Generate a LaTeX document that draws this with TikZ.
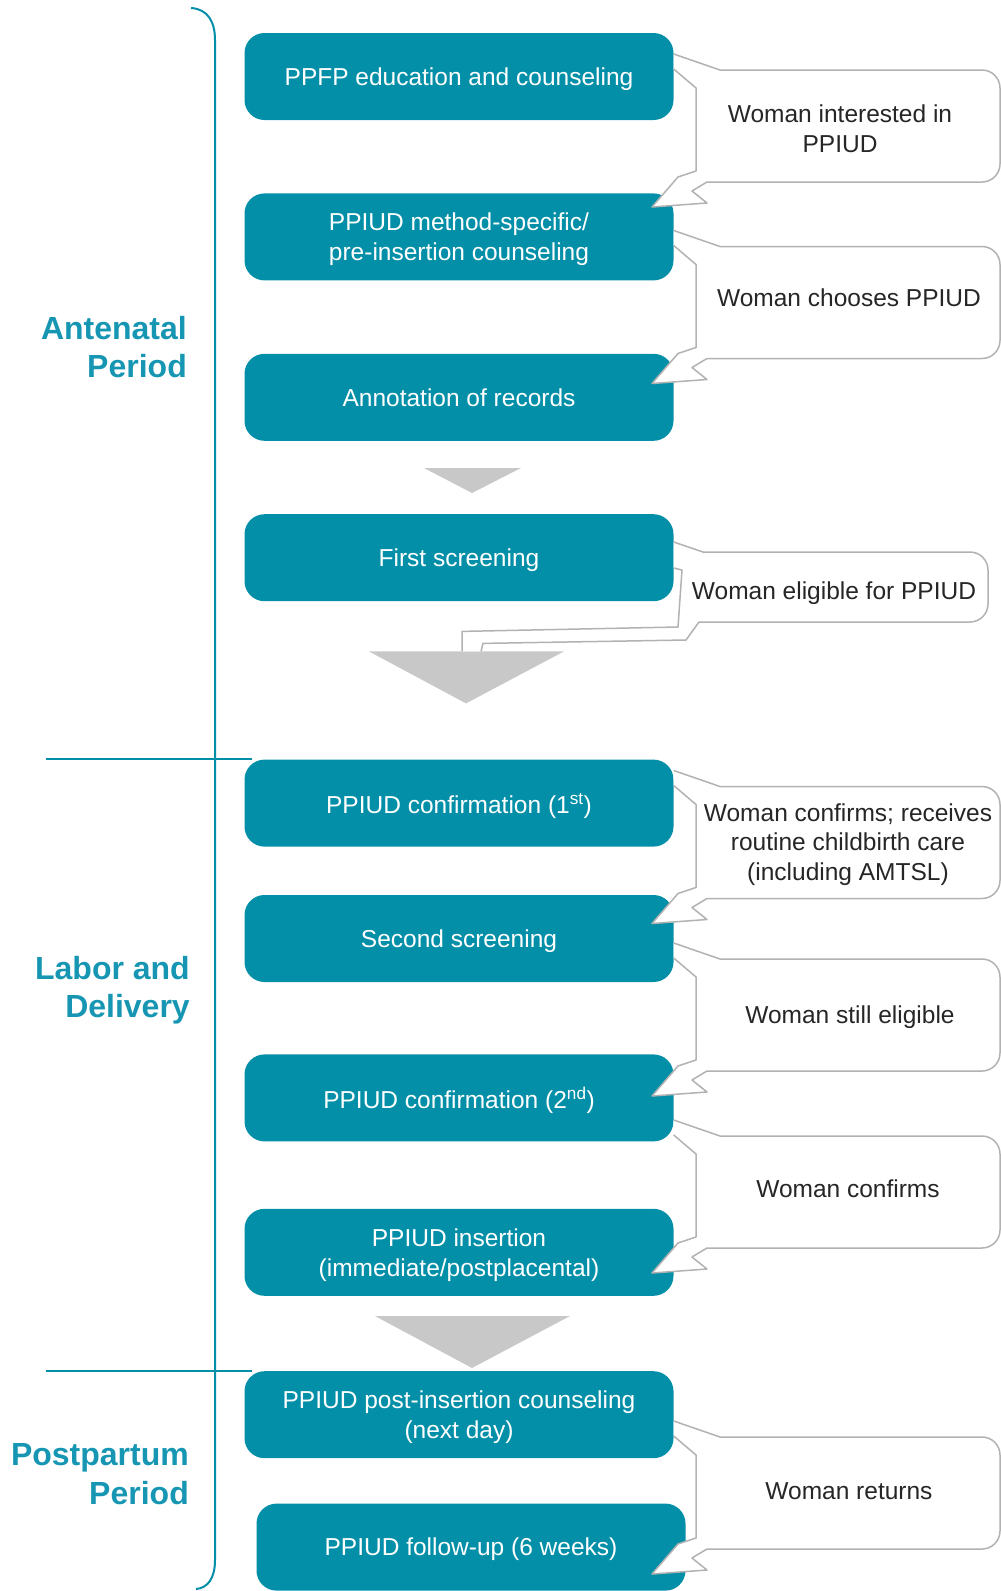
\documentclass[tikz,border=0pt]{standalone}
\usepackage{fontspec}
\setmainfont{Liberation Sans}
\usepackage{tikz}
\usetikzlibrary{calc,positioning}
\definecolor{stagefill}{RGB}{3,143,168}
\definecolor{periodtext}{RGB}{22,150,178}
\definecolor{flowgray}{RGB}{200,200,200}
\definecolor{rimgray}{RGB}{178,178,178}

\begin{document}
\begin{tikzpicture}[x=1pt,y=-1pt,node distance=73pt,line join=round]
  \tikzstyle{stage}=[rectangle,rounded corners=20pt,fill=stagefill,text=white,
                     minimum width=429pt,minimum height=87pt,align=center,text depth=0pt,
                     font=\fontsize{24.5}{30}\selectfont]
  \tikzstyle{bubble}=[rectangle,inner sep=0pt,outer sep=0pt,
                      minimum width=310pt,minimum height=112pt]
  \tikzstyle{tail}=[draw=rimgray,fill=white,line width=1.5pt]
  \tikzstyle{note}=[align=center,text=black!85,text depth=0pt,
                    font=\fontsize{24.5}{29.5}\selectfont]
  \tikzstyle{period}=[align=right,anchor=east,inner sep=0pt,text=periodtext,
                      font=\fontsize{32}{38.5}\selectfont\bfseries]
  \tikzstyle{rule}=[draw=stagefill,line width=2pt]

  \useasboundingbox (0,0) rectangle (1001,1591);

  \node[stage] (b1) at (459,76.5) {PPFP education and counseling};
  \node[stage] (b2) [below=of b1] {PPIUD method-specific/\\pre-insertion counseling};
  \node[stage] (b3) [below=of b2] {Annotation of records};
  \node[stage] (b4) [below=of b3] {First screening};
  \node[stage] (b5) [below=158pt of b4] {PPIUD confirmation (1\textsuperscript{st})};
  \node[stage] (b6) [below=48pt of b5] {Second screening};
  \node[stage] (b7) [below=72pt of b6] {PPIUD confirmation (2\textsuperscript{nd})};
  \node[stage] (b8) [below=67pt of b7] {PPIUD insertion\\(immediate/postplacental)};
  \node[stage] (b9) [below=75pt of b8] {PPIUD post-insertion counseling\\(next day)};
  \node[stage] (b10) [below=45pt of b9,xshift=12pt] {PPIUD follow-up (6 weeks)};

  % gray flow arrows
  \fill[flowgray] ($(b3.south)+(-35,27)$) -- ($(b3.south)+(62,27)$) -- ($(b3.south)+(13,52)$) -- cycle;
  \coordinate (m2) at ($(b4.south)+(7,50)$);
  \fill[flowgray] ($(m2)+(-97,0)$) -- ($(m2)+(98,0)$) -- ($(m2)+(0,52)$) -- cycle;
  \fill[flowgray] ($(b8.south)+(-84,20)$) -- ($(b8.south)+(111,20)$) -- ($(b8.south)+(13,72)$) -- cycle;

  % periods
  \draw[stagefill,line width=2pt] (191,8) .. controls (208,9) and (215,22) .. (215,40)
        -- (215,1560) .. controls (215,1578) and (208,1588) .. (196,1589);
  \draw[rule] ($(b5.north west)+(-198,0)$) -- ($(b5.north west)+(8,0)$);
  \draw[rule] ($(b9.north west)+(-198,0)$) -- ($(b9.north west)+(8,0)$);
  \node[period] (p1) at (187,347) {Antenatal\\Period};
  \node[period] (p2) at (190,990) {Labor and\\Delivery};
  \node[period] (p3) at (189,1474) {Postpartum\\Period};

  % callouts
  \node[bubble] (c1) at (845,126) {};
  \node[bubble] (c2) at (845,302.5) {};
  \node[bubble,minimum width=306pt,minimum height=70pt] (c3) at (835,587) {};
  \node[bubble] (c4) at (845,842.5) {};
  \node[bubble] (c5) at (845,1015) {};
  \node[bubble] (c6) at (845,1192) {};
  \node[bubble] (c7) at (845,1493) {};

  \foreach \a/\c in {b1/c1,b2/c2,b5/c4,b6/c5,b7/c6,b9/c7}
    \draw[tail] ($(\c.north west -| \a.east)+(0,-16)$) -- ($(\c.north west)+(30,0)$)
      [rounded corners=18pt] -- (\c.north east) -- (\c.south east)
      [sharp corners] -- ($(\c.south west)+(17,0)$) -- ($(\c.south west)+(2,9)$)
      -- ($(\c.south west)+(17,21)$) -- ($(\c.south west)+(-38,25)$)
      -- ($(\c.south west)+(-12,-5)$) -- ($(\c.south west)+(6,-11)$)
      -- ($(\c.north west)+(6,18)$) -- ($(\c.north west -| \a.east)+(0,-1)$);

  \fill[white] ($(c3.north west -| b4.east)+(0,-10)$) -- ($(c3.north west)+(21,0)$)
      [rounded corners=18pt] -- (c3.north east) -- (c3.south east)
      [sharp corners] -- ($(c3.south west)+(17,0)$) -- ($(c3.south west)+(4,18)$)
      -- ($(m2)+(17,-8)$) -- ($(m2)+(15,0)$) -- ($(m2)+(-4,0)$) -- ($(m2)+(-4,-20)$)
      -- ($(c3.south west)+(-4,5)$) -- ($(c3.north west)+(0,18)$)
      -- ($(c3.north west -| b4.east)+(0,16)$) -- cycle;
  \draw[tail,fill=none] ($(c3.north west -| b4.east)+(0,-10)$) -- ($(c3.north west)+(21,0)$)
      [rounded corners=18pt] -- (c3.north east) -- (c3.south east)
      [sharp corners] -- ($(c3.south west)+(17,0)$) -- ($(c3.south west)+(4,18)$)
      -- ($(m2)+(17,-8)$) -- ($(m2)+(15,0)$);
  \draw[tail,fill=none] ($(m2)+(-4,0)$) -- ($(m2)+(-4,-20)$)
      -- ($(c3.south west)+(-4,5)$) -- ($(c3.north west)+(0,18)$)
      -- ($(c3.north west -| b4.east)+(0,16)$);

  \node[note] (t1) at (840,128.5) {Woman interested in\\PPIUD};
  \node[note] (t2) at (849,297.5) {Woman chooses PPIUD};
  \node[note] (t3) at (834,591) {Woman eligible for PPIUD};
  \node[note] (t4) at (848,842) {Woman confirms; receives\\routine childbirth care\\(including AMTSL)};
  \node[note] (t5) at (850,1015) {Woman still eligible};
  \node[note] (t6) at (848,1189) {Woman confirms};
  \node[note] (t7) at (849,1491) {Woman returns};
\end{tikzpicture}
\end{document}
